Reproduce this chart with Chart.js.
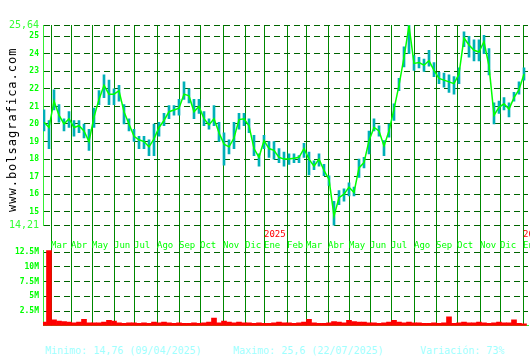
<!DOCTYPE html>
<html lang="es">
<head>
<meta charset="utf-8">
<title>bolsagrafica</title>
<script src="https://cdn.jsdelivr.net/npm/chart.js@4.4.1/dist/chart.umd.min.js"></script>
<style>
    html, body { margin: 0; padding: 0; background: #fff; }
    #lienzo { position: relative; width: 530px; height: 360px; overflow: hidden; }
    #graficoPrecio { position: absolute; left: 0; top: 0; }
    #graficoVolumen { position: absolute; left: 0; top: 240px; }
    #marca {
        position: absolute; left: -70px; top: 123px; width: 164px; height: 14px; line-height: 14px;
        text-align: center; font: 12px "DejaVu Sans Mono", monospace; letter-spacing: 1px;
        color: #000; transform: rotate(-90deg); white-space: nowrap;
    }
    .pie { position: absolute; top: 345px; font: 10px "DejaVu Sans Mono", monospace; color: #a0ffff; white-space: pre; }
</style>
</head>
<body>
<div id="lienzo">
    <canvas id="graficoPrecio" width="530" height="250"></canvas>
    <canvas id="graficoVolumen" width="530" height="90"></canvas>
    <div id="marca">www.bolsagrafica.com</div>
    <div class="pie" style="left:45px">Minimo: 14,76 (09/04/2025)</div>
    <div class="pie" style="left:233px">Maximo: 25,6 (22/07/2025)</div>
    <div class="pie" style="left:420px">Variación: 73%</div>
</div>
<script>
// una muestra cada 5 sesiones, desde finales de febrero 2024
const PASO = 5;

const cierre = [20.1, 19.8, 21.3, 20.5, 20.0, 20.3, 19.8, 19.9, 19.6, 19.0,
    20.4, 21.4, 22.2, 21.7, 21.7, 21.9, 20.7, 20.0, 19.3, 19.1,
    19.0, 18.7, 19.15, 19.8, 20.2, 20.7, 20.8, 20.9, 21.7, 21.6,
    20.7, 21.0, 20.3, 19.95, 20.3, 19.5, 18.85, 18.7, 19.2, 20.25,
    20.3, 19.9, 18.6, 18.1, 19.05, 18.6, 18.5, 18.1, 18.0, 18.0,
    18.05, 18.1, 18.6, 18.0, 17.6, 18.0, 17.35, 16.85, 14.76, 15.8,
    16.0, 16.4, 16.1, 17.5, 17.8, 19.05, 19.8, 19.6, 18.75, 19.6,
    20.85, 22.2, 23.8, 25.6, 23.45, 23.5, 23.35, 23.6, 23.05, 22.6,
    22.5, 22.4, 22.3, 22.85, 24.9, 24.5, 24.2, 24.1, 24.7, 23.3,
    20.5, 20.95, 21.15, 20.85, 21.5, 21.95, 22.85];

const maximo = [20.8, 20.2, 21.95, 21.1, 20.3, 20.7, 20.2, 20.2, 20.0, 19.7,
    20.9, 21.9, 22.8, 22.5, 22.0, 22.2, 21.1, 20.3, 19.7, 19.3,
    19.3, 19.1, 20.0, 20.1, 20.6, 21.05, 21.05, 21.4, 22.4, 22.0,
    21.4, 21.4, 20.7, 20.3, 21.05, 20.1, 19.5, 19.1, 20.1, 20.6,
    20.6, 20.3, 19.35, 18.3, 19.35, 19.0, 19.0, 18.6, 18.4, 18.3,
    18.3, 18.2, 18.9, 18.4, 17.9, 18.3, 17.7, 17.05, 15.6, 16.2,
    16.3, 16.65, 16.4, 18.0, 18.1, 19.6, 20.3, 19.9, 19.05, 20.0,
    21.15, 22.6, 24.4, 25.64, 23.9, 23.8, 23.7, 24.2, 23.5, 22.95,
    22.9, 22.8, 22.7, 23.2, 25.25, 25.0, 24.8, 24.8, 25.05, 24.3,
    21.2, 21.3, 21.5, 21.2, 21.8, 22.4, 23.2];

const minimo = [19.6, 18.6, 20.8, 20.1, 19.6, 19.8, 19.3, 19.5, 19.2, 18.5,
    19.8, 21.1, 21.5, 21.1, 21.1, 21.3, 20.0, 19.6, 19.0, 18.6,
    18.6, 18.2, 18.2, 19.3, 19.9, 20.3, 20.5, 20.5, 21.4, 21.2,
    20.3, 20.6, 19.9, 19.7, 19.9, 19.0, 17.65, 18.3, 18.6, 19.7,
    19.9, 19.5, 18.2, 17.6, 18.6, 18.1, 18.0, 17.8, 17.6, 17.7,
    17.8, 17.8, 18.1, 17.1, 17.4, 17.6, 17.05, 16.5, 14.21, 15.4,
    15.6, 15.9, 15.9, 16.95, 17.5, 18.3, 19.6, 19.3, 18.2, 19.25,
    20.2, 21.9, 23.25, 24.0, 23.05, 23.2, 23.0, 23.3, 22.7, 22.3,
    22.1, 21.8, 21.7, 22.3, 24.4, 23.8, 23.6, 23.6, 24.0, 22.8,
    20.0, 20.6, 20.8, 20.4, 21.3, 21.7, 22.5];

// volumen en millones
const volumen = [0.6, 12.8, 1.0, 0.8, 0.7, 0.6, 0.5, 0.6, 1.1, 0.5,
    0.5, 0.5, 0.6, 0.9, 0.8, 0.5, 0.4, 0.5, 0.5, 0.4,
    0.5, 0.4, 0.6, 0.5, 0.6, 0.5, 0.4, 0.5, 0.4, 0.4,
    0.5, 0.4, 0.5, 0.6, 1.3, 0.5, 0.8, 0.6, 0.5, 0.6,
    0.5, 0.5, 0.4, 0.5, 0.4, 0.4, 0.5, 0.6, 0.5, 0.5,
    0.4, 0.5, 0.6, 1.1, 0.5, 0.4, 0.4, 0.5, 0.7, 0.6,
    0.5, 0.9, 0.7, 0.6, 0.6, 0.5, 0.5, 0.4, 0.5, 0.6,
    0.9, 0.6, 0.5, 0.6, 0.5, 0.5, 0.4, 0.4, 0.5, 0.4,
    0.5, 1.5, 0.4, 0.5, 0.6, 0.5, 0.5, 0.6, 0.5, 0.4,
    0.5, 0.6, 0.5, 0.5, 1.0, 0.4, 0.3];

const meses = ['Mar', 'Abr', 'May', 'Jun', 'Jul', 'Ago', 'Sep', 'Oct', 'Nov', 'Dic', 'Ene', 'Feb',
    'Mar', 'Abr', 'May', 'Jun', 'Jul', 'Ago', 'Sep', 'Oct', 'Nov', 'Dic', 'Ene'];
const inicioMes = [7, 27, 48, 70, 90, 113, 135, 156, 179, 201, 220, 243,
    262, 284, 305, 326, 347, 370, 392, 413, 436, 456, 479];
const anios = ['2025', '2026'];
const inicioAnio = [220, 479];

const marcasPrecio = [14.21, 15, 16, 17, 18, 19, 20, 21, 22, 23, 24, 25, 25.64];
const marcasVolumen = [2.5, 5, 7.5, 10, 12.5];

const fuente = '"DejaVu Sans Mono", monospace';
const verdeClaro = '#33ee33';
const sesiones = cierre.map((c, i) => i * PASO);

const etiquetasAnio = {
    id: 'etiquetasAnio',
    afterDraw(chart) {
        const ctx = chart.ctx;
        const x = chart.scales.x;
        ctx.save();
        ctx.font = '9px ' + fuente;
        ctx.fillStyle = '#ff0000';
        ctx.textBaseline = 'top';
        ctx.textAlign = 'left';
        anios.forEach((a, i) => {
            ctx.fillText(a, x.getPixelForValue(inicioAnio[i]), chart.chartArea.bottom + 5);
        });
        ctx.restore();
    }
};

const graficoPrecio = new Chart(document.getElementById('graficoPrecio'), {
    type: 'bar',
    data: {
        datasets: [{
            type: 'line',
            label: 'Cierre',
            data: sesiones.map((s, i) => ({ x: s, y: cierre[i] })),
            borderColor: '#00ff00',
            borderWidth: 1.5,
            pointRadius: 0,
            order: 0
        }, {
            type: 'bar',
            label: 'Rango',
            data: sesiones.map((s, i) => ({ x: s, y: [minimo[i], maximo[i]] })),
            backgroundColor: '#00b0b8',
            barThickness: 2,
            order: 1
        }]
    },
    options: {
        responsive: false,
        animation: false,
        devicePixelRatio: 1,
        layout: { padding: { top: 25, right: 2, left: 0, bottom: 0 } },
        plugins: { legend: { display: false }, tooltip: { enabled: false } },
        scales: {
            x: {
                type: 'linear', min: -1, max: 484, offset: false,
                afterBuildTicks: s => { s.ticks = inicioMes.map(v => ({ value: v })); },
                afterFit: s => { s.height = 24.4; s.paddingLeft = 0; s.paddingRight = 0; },
                grid: { color: '#008800', lineWidth: 1, drawTicks: true, tickLength: 24.4, tickColor: '#008800', offset: false },
                border: { display: false },
                ticks: {
                    callback: (v, i) => meses[i],
                    align: 'start', padding: -10, color: '#00ff00',
                    autoSkip: false, maxRotation: 0, minRotation: 0,
                    font: { family: fuente, size: 9 }
                }
            },
            y: {
                min: 14.21, max: 25.64,
                afterBuildTicks: s => { s.ticks = marcasPrecio.map(v => ({ value: v })); },
                afterFit: s => { s.width = 43; },
                grid: { color: '#006400', lineWidth: 1, drawTicks: false },
                border: { display: true, color: verdeClaro, width: 1, dash: [6, 4] },
                ticks: {
                    padding: 4,
                    callback: v => String(v).replace('.', ','),
                    color: c => (c.tick && !Number.isInteger(c.tick.value)) ? '#33ff33' : '#00ff00',
                    font: c => (c.tick && !Number.isInteger(c.tick.value))
                        ? { family: fuente, size: 10 }
                        : { family: fuente, size: 8, weight: 'bold' }
                }
            }
        }
    },
    plugins: [etiquetasAnio]
});

const graficoVolumen = new Chart(document.getElementById('graficoVolumen'), {
    type: 'bar',
    data: {
        datasets: [{
            label: 'Volumen',
            data: sesiones.map((s, i) => ({ x: s, y: volumen[i] })),
            backgroundColor: '#ff0000',
            barPercentage: 1,
            categoryPercentage: 1
        }]
    },
    options: {
        responsive: false,
        animation: false,
        devicePixelRatio: 1,
        layout: { padding: { top: 10, right: 2, left: 0, bottom: 0 } },
        plugins: { legend: { display: false }, tooltip: { enabled: false } },
        scales: {
            x: {
                type: 'linear', min: -1, max: 484, offset: false,
                afterBuildTicks: s => { s.ticks = inicioMes.map(v => ({ value: v })); },
                afterFit: s => { s.height = 4.3; s.paddingLeft = 0; s.paddingRight = 0; },
                grid: { color: '#008800', lineWidth: 1, drawTicks: false, offset: false },
                border: { display: true, color: verdeClaro, width: 1 },
                ticks: { display: false }
            },
            y: {
                min: 0, max: 12.89,
                afterBuildTicks: s => { s.ticks = marcasVolumen.map(v => ({ value: v })); },
                afterFit: s => { s.width = 43; s.paddingTop = 0; s.paddingBottom = 0; },
                grid: { color: '#006400', lineWidth: 1, drawTicks: false },
                border: { display: true, color: verdeClaro, width: 1, dash: [6, 4] },
                ticks: {
                    padding: 4,
                    callback: v => v + 'M',
                    color: '#00ff00',
                    font: { family: fuente, size: 8, weight: 'bold' }
                }
            }
        }
    }
});
</script>
</body>
</html>
